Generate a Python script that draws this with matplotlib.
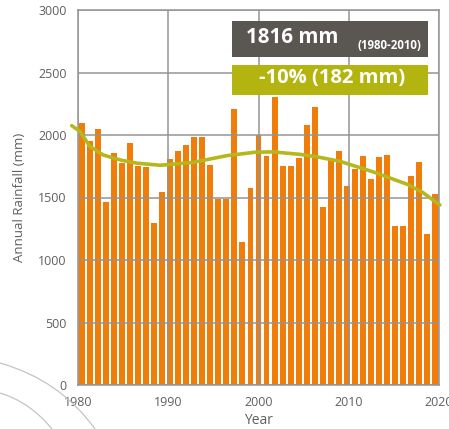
import matplotlib
matplotlib.use("Agg")
import matplotlib.pyplot as plt
from matplotlib.patches import Rectangle, PathPatch
from matplotlib.path import Path
import numpy as np

plt.rcParams['font.family'] = ['Open Sans', 'DejaVu Sans']

# Annual rainfall bars (mm), left to right, spread across the 1980-2020 axis
rainfall = [2098, 1952, 2048, 1467, 1859, 1776, 1936, 1752, 1744, 1300,
            1544, 1805, 1872, 1917, 1981, 1981, 1763, 1485, 1485, 2205,
            1141, 1579, 2000, 1832, 2301, 1752, 1752, 1816, 2077, 2227,
            1427, 1800, 1869, 1592, 1725, 1835, 1651, 1821, 1843, 1272,
            1272, 1672, 1781, 1205, 1525]

# Smoothed trend line (year, mm)
trend_year = [1979.3, 1980.2, 1981.3, 1982.8, 1984.7, 1986.5, 1989.1, 1992.7,
              1996.5, 1999.6, 2001.6, 2004.6, 2006.5, 2009.0, 2012.7, 2016.5,
              2018.2, 2020.1]
trend_mm = [2075, 2030, 1910, 1840, 1800, 1775, 1758, 1780,
            1835, 1862, 1865, 1845, 1825, 1790, 1705, 1605,
            1540, 1440]

x_start, x_end = 1980, 2020
xticks = [1980, 1990, 2000, 2010, 2020]
yticks = [0, 500, 1000, 1500, 2000, 2500, 3000]

mean_label = "1816 mm"
mean_period = "(1980-2010)"
change_label = "-10% (182 mm)"

bar_color = '#f07d0a'
trend_color = '#b5b71c'
box1_color = '#5a5652'
box2_color = '#b3b40f'
grid_color = '#949494'
text_gray = '#5f5f5f'

fig = plt.figure(figsize=(4.49, 4.29), dpi=100)
ax = fig.add_axes([78/449, 1 - 385/429, (439-78)/449, (385-10)/429])

n = len(rainfall)
step = (x_end - x_start) / n
xpos = x_start + (np.arange(n) + 0.5) * step
ax.bar(xpos, rainfall, width=step * 0.74, color=bar_color, zorder=1)

ax.set_xlim(x_start, x_end)
ax.set_ylim(0, 3000)
ax.set_xticks(xticks)
ax.set_yticks(yticks)
ax.grid(True, color=grid_color, linewidth=1.1, zorder=2)
ax.set_axisbelow(False)
for sp in ax.spines.values():
    sp.set_color(grid_color)
    sp.set_linewidth(1.1)
ax.tick_params(length=0, colors=text_gray, labelsize=9)
ax.tick_params(axis='y', pad=8)
ax.tick_params(axis='x', pad=8)
ax.set_ylabel("Annual Rainfall (mm)", color=text_gray, fontsize=9.5, labelpad=9)
ax.set_xlabel("Year", color=text_gray, fontsize=10, labelpad=3)

ax.plot(trend_year, trend_mm, color=trend_color, linewidth=2.6, zorder=4,
        clip_on=False, solid_capstyle='round')

# Annotation boxes
bx0 = (232 - 78) / 361
bx1 = (428 - 78) / 361
ax.add_patch(Rectangle((bx0, (385-57)/375), bx1 - bx0, 36/375,
                       transform=ax.transAxes, facecolor=box1_color,
                       edgecolor='none', zorder=5))
ax.add_patch(Rectangle((bx0, (385-95)/375), bx1 - bx0, 30/375,
                       transform=ax.transAxes, facecolor=box2_color,
                       edgecolor='none', zorder=5))
ax.text((246-78)/361, (385-43)/375, mean_label, transform=ax.transAxes,
        color='white', fontsize=14.8, fontweight='bold', va='baseline',
        ha='left', zorder=6)
ax.text((421-78)/361, (385-49)/375, mean_period, transform=ax.transAxes,
        color='white', fontsize=8.3, fontweight='bold', va='baseline',
        ha='right', zorder=6)
ax.text((332-78)/361, (385-78.5)/375, change_label, transform=ax.transAxes,
        color='white', fontsize=14.5, fontweight='bold', va='center',
        ha='center', zorder=6)

# Decorative arcs bottom-left (figure pixel coords)
H = 429
def arc(p0, p1, p2):
    verts = [(p0[0], H - p0[1]), (p1[0], H - p1[1]), (p2[0], H - p2[1])]
    path = Path(verts, [Path.MOVETO, Path.CURVE3, Path.CURVE3])
    fig.add_artist(PathPatch(path, transform=None, facecolor='none',
                             edgecolor='#c4c4c4', linewidth=0.9))
arc((0, 363), (60, 380), (95, 429))
arc((0, 393), (30, 402), (52, 429))

fig.savefig("out.png", dpi=100)
